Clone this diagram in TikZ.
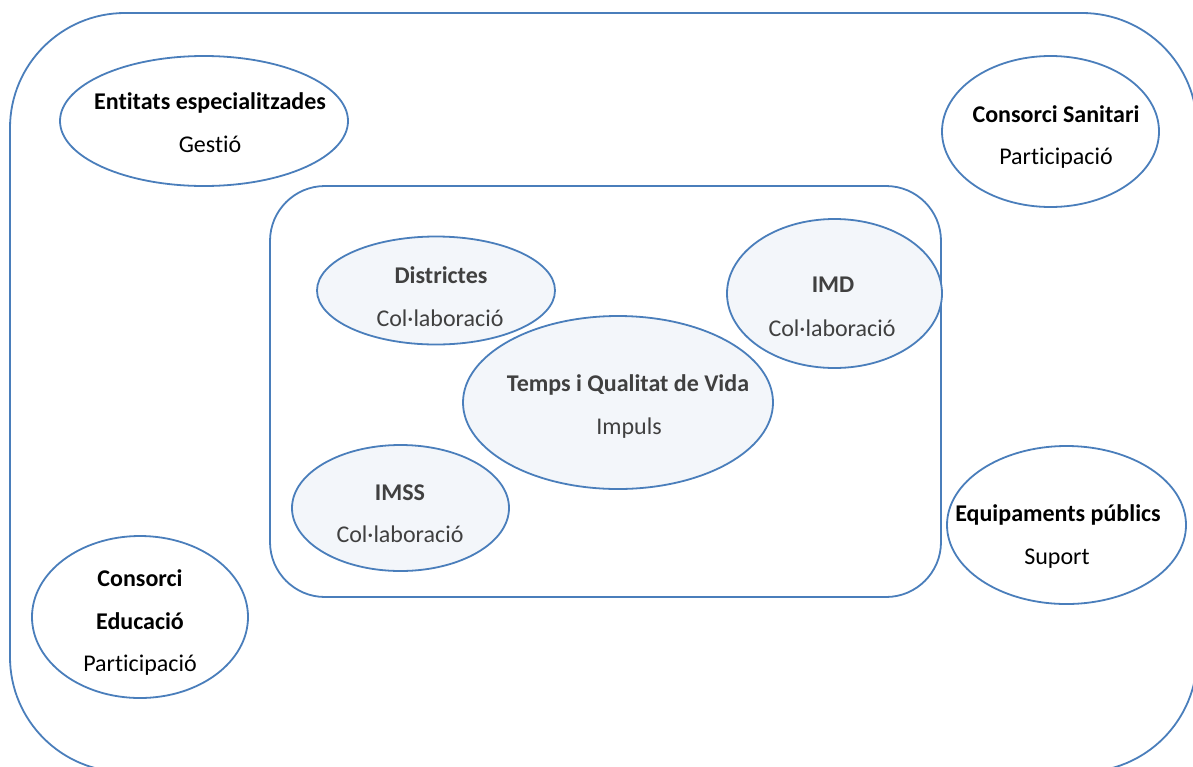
\documentclass[tikz,border=0pt]{standalone}
\usepackage{fontspec}
\setmainfont{Carlito}[Ligatures={NoCommon}]
\usetikzlibrary{shapes.geometric}
\definecolor{edgeblue}{HTML}{4A7EBB}
\definecolor{pale}{HTML}{F3F6FA}
\definecolor{ink}{HTML}{404040}
\begin{document}
\begin{tikzpicture}[x=1pt,y=-1pt,
  frame/.style={draw=edgeblue, line width=1.8pt, rectangle, inner sep=0pt, outer sep=0pt},
  bubble/.style={draw=edgeblue, line width=1.8pt, ellipse, inner sep=0pt, fill=white},
  innerbubble/.style={bubble, fill=pale},
  title/.style={anchor=base, font=\fontsize{24}{28}\selectfont\bfseries, text=black, inner sep=0pt},
  role/.style={anchor=base, font=\fontsize{24}{28}\selectfont, text=black, inner sep=0pt},
  ititle/.style={title, text=ink},
  irole/.style={role, text=ink}]
\useasboundingbox (0,0) rectangle (1193,766);
\clip (0,0) rectangle (1193,766);
% outer frame
\node[frame, rounded corners=115pt, minimum width=1187pt, minimum height=759pt] (outer) at (603.5,392.5) {};
% inner frame
\node[frame, rounded corners=55pt, minimum width=671pt, minimum height=411pt] (inner) at (605.5,391.5) {};
% outer ellipses
\node[bubble, minimum width=288pt, minimum height=130pt] (ent) at (204,121) {};
\node[title] (entT) at (210,109) {Entitats especialitzades};
\node[role] (entR) at (210,152) {Gestió};
\node[bubble, minimum width=217pt, minimum height=151pt] (san) at (1050.5,131.5) {};
\node[title] (sanT) at (1056,122) {Consorci Sanitari};
\node[role] (sanR) at (1056,164) {Participació};
\node[bubble, minimum width=216pt, minimum height=162pt] (edu) at (140,617) {};
\node[title] (eduT1) at (140,586) {Consorci};
\node[title] (eduT2) at (140,629) {Educació};
\node[role] (eduR) at (140,671) {Participació};
\node[bubble, minimum width=239pt, minimum height=158pt] (equ) at (1066.5,525) {};
\node[title] (equT) at (1058,521) {Equipaments públics};
\node[role] (equR) at (1057,564) {Suport};
% inner ellipses
\node[innerbubble, minimum width=238pt, minimum height=108pt] (dis) at (436,290.5) {};
\node[ititle] (disT) at (441,283) {Districtes};
\node[irole] (disR) at (440,326) {Col·laboració};
\node[innerbubble, minimum width=215pt, minimum height=149pt] (imd) at (834.5,293.5) {};
\node[ititle] (imdT) at (833,292) {IMD};
\node[irole] (imdR) at (832,336) {Col·laboració};
\node[innerbubble, minimum width=310pt, minimum height=173pt] (tqv) at (618,402.5) {};
\node[ititle] (tqvT) at (628,391) {Temps i Qualitat de Vida};
\node[irole] (tqvR) at (629,434) {Impuls};
\node[innerbubble, minimum width=217pt, minimum height=126pt] (imss) at (400.5,508) {};
\node[ititle] (imssT) at (400,500) {IMSS};
\node[irole] (imssR) at (400,542) {Col·laboració};
\end{tikzpicture}
\end{document}
